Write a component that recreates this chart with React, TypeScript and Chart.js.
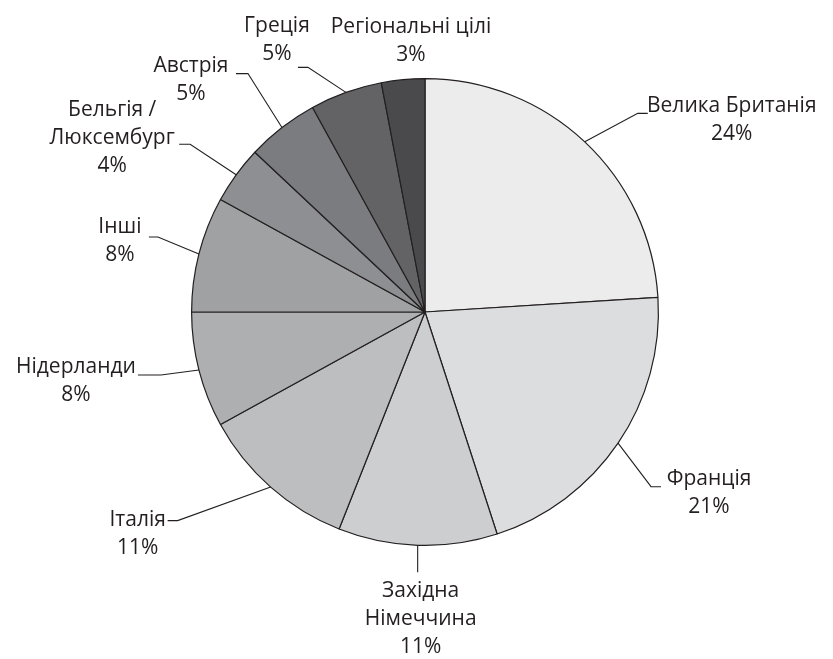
import React, { useEffect, useRef } from "react";
import { Chart, registerables } from "chart.js";

Chart.register(...registerables);

const categories: string[][] = [
  ["Велика Британія"],
  ["Франція"],
  ["Західна", "Німеччина"],
  ["Італія"],
  ["Нідерланди"],
  ["Інші"],
  ["Бельгія /", "Люксембург"],
  ["Австрія"],
  ["Греція"],
  ["Регіональні цілі"],
];
const shares: number[] = [24, 21, 11, 11, 8, 8, 4, 5, 5, 3];
const percentLabels: string[] = ["24%", "21%", "11%", "11%", "8%", "8%", "4%", "5%", "5%", "3%"];
const sliceColors: string[] = [
  "#ececed", "#dcdddf", "#cdcecf", "#bdbec0", "#aeafb1",
  "#a0a1a3", "#8e8f92", "#7b7c7f", "#636366", "#4a4a4d",
];

// label layout relative to the slice's outer mid-point
// ex,ey: elbow offset; hx: horizontal tail; tx,ty: first text line centre offset
const labelLayout = [
  { ex: 53, ey: -28.5, hx: 10, tx: 147, ty: -35.5, leader: true },
  { ex: 33, ey: 43.5, hx: 10, tx: 91, ty: 35.5, leader: true },
  { ex: 0, ey: 27, hx: 0, tx: 3, ty: 46, leader: true },
  { ex: -93, ey: 33.5, hx: -10, tx: -133, ty: 32.5, leader: true },
  { ex: -38, ey: 5, hx: -23, tx: -123, ty: -3, leader: true },
  { ex: -41, ey: -17, hx: -9, tx: -79, ty: -27, leader: true },
  { ex: -46, ey: -30.5, hx: -11, tx: -124, ty: -64.5, leader: true },
  { ex: -34, ey: -54, hx: -12, tx: -91, ty: -62, leader: true },
  { ex: -38, ey: -25, hx: -10, tx: -69, ty: -66, leader: true },
  { ex: 0, ey: 0, hx: 0, tx: 8, ty: -53, leader: false },
];

const INK = "#231f20";
const LINE_H = 28;

const labelPlugin = {
  id: "leaderLabels",
  afterDatasetsDraw(chart: any) {
    const ctx = chart.ctx;
    const meta = chart.getDatasetMeta(0);
    ctx.save();
    ctx.strokeStyle = INK;
    ctx.fillStyle = INK;
    ctx.lineWidth = 1.1;
    ctx.font = '21px "Open Sans"';
    ctx.textAlign = "center";
    ctx.textBaseline = "middle";
    meta.data.forEach((arc: any, i: number) => {
      const { x, y, startAngle, endAngle, outerRadius } = arc.getProps(
        ["x", "y", "startAngle", "endAngle", "outerRadius"], true);
      const mid = (startAngle + endAngle) / 2;
      const ax = x + Math.cos(mid) * outerRadius;
      const ay = y + Math.sin(mid) * outerRadius;
      const L = labelLayout[i];
      if (L.leader) {
        ctx.beginPath();
        ctx.moveTo(ax, ay);
        ctx.lineTo(ax + L.ex, ay + L.ey);
        if (L.hx !== 0) ctx.lineTo(ax + L.ex + L.hx, ay + L.ey);
        ctx.stroke();
      }
      const lines = [...categories[i], percentLabels[i]];
      lines.forEach((t, k) => {
        ctx.fillText(t, ax + L.tx, ay + L.ty + k * LINE_H);
      });
    });
    ctx.restore();
  },
};

export default function App() {
  const ref = useRef<HTMLCanvasElement>(null);
  useEffect(() => {
    if (!ref.current) return;
    const chart = new Chart(ref.current, {
      type: "pie",
      data: {
        labels: categories.map((c) => c.join(" ")),
        datasets: [
          {
            data: shares,
            backgroundColor: sliceColors,
            borderColor: INK,
            borderWidth: 1.2,
          },
        ],
      },
      options: {
        responsive: false,
        animation: false,
        layout: { padding: { left: 191, right: 174, top: 78, bottom: 113 } },
        plugins: {
          legend: { display: false },
          tooltip: { enabled: false },
        },
      },
      plugins: [labelPlugin],
    });
    return () => chart.destroy();
  }, []);
  return (
    <div style={{ position: "absolute", left: 0, top: 0, width: 833, height: 659, background: "#fff" }}>
      <canvas ref={ref} width={833} height={659} />
    </div>
  );
}
